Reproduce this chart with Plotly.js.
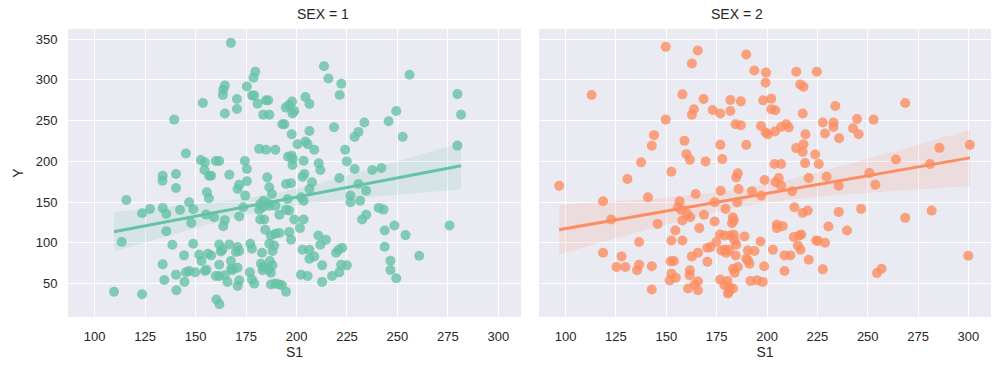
<!DOCTYPE html>
<html>
<head>
<meta charset="utf-8">
<script src="https://cdn.plot.ly/plotly-3.0.1.min.js"></script>
<style>html,body{margin:0;padding:0;background:#fff;}#chart{width:1000px;height:375px;}</style>
</head>
<body>
<div id="chart"></div>
<script>
// SEX = 1 : S1 values and Y values
const s1_sex1 = [
167.5,179.6,178.7,164.5,163.7,163.5,175.4,178,179,170.5,184.9,186,180.7,153.6,170.5,164.5,183.5,186.5,194.7,196.3,197.8,198,198.9,193,194,197.6,139.4,145.2,181.5,184.9,189.5,195.8,197.6,198,152.6,154.6,160,161.7,174.4,175.4,154.4,133.7,140.3,156.7,157.7,166.7,185.5,
133.6,140.3,155.6,156.6,115.7,123.5,127.4,133.7,135.5,142.3,146.8,148.9,147.9,155.2,159.2,135.5,113.4,109.6,123.5,140.5,134.5,133.7,138.5,144.3,140.3,144.5,145.2,146.8,149.8,148.8,151.8,152.9,156.2,157.7,154.6,155.4,160.3,161.8,161.7,163.3,162.5,166.7,161.7,160,161.7,164.5,165.8,164.5,163.7,167.5,167.6,168.3,170.8,171.6,170,170.8,171.6,170.8,171.6,170.8,171.6,174.6,175.4,173.6,177.1,177.9,176.9,177.9,179.1,182.9,182.4,183.5,183.2,182,184,181.5,183.2,182,183.7,185.7,186.5,184.5,186.5,187.8,186.5,189,188.1,186.8,188.1,186.2,187.3,187.3,189.5,191.1,192.8,194.8,187.3,189.5,191.5,191.5,194.8,196.4,189.5,194.8,197.3,195.6,196.4,197.3,198.9,
203,203.9,207.7,206.4,221.2,230.7,234.5,226.7,226.7,231.5,202.2,203.5,203.5,201.7,210.8,214.6,211.8,203,206.4,206.4,208.8,212.7,202.2,205.5,212.7,217.6,221.2,222.1,224.9,219.6,220.9,222.6,232.5,234.5,240.7,243.1,243.7,248.5,254,243.7,260.8,246.5,246.5,249.4,275.8,
213.6,215.8,222.2,221.4,256,204.4,206.4,279.7,281.5,279.7,249.4,245.6,233.6,230.7,228.8,252.6,218.6,206.4,204.4,205.5,200.5,208.8,224.1,198.1,203.5,211,211.8,224.9,228.8,237.5,242
];
const y_sex1 = [
345.5,310,302.7,293,288,281.4,292,281,281,276.5,275,275,270.9,271.6,264.3,258.7,257.4,257.4,266,269.2,273.4,258.7,262,245.6,245.6,233.4,251.3,209.8,215.4,214.2,214.2,205.6,206.8,195.6,201.6,198.8,200.4,200.4,200.4,190.6,189.4,182.4,184.5,182.4,182.4,183.6,180.4,
176.3,167.4,162.1,154.8,152.7,136.4,141.7,142.9,135.6,140.5,149.9,141.3,124.5,134.7,131.5,114.4,101,39.9,36.9,41.8,54.5,73.6,97.7,84.6,61,52.1,63.8,65.5,63.8,98.9,85.8,77.7,86.7,84.6,65.5,67.1,30.4,24.7,98,91.6,89.5,98,73.2,59.4,59.4,60.1,52.1,127.9,120.5,77.7,68.3,66.3,94.9,90,88.8,69.6,54,47.2,132.3,166.2,171.4,158,175.6,143.8,98.9,92.8,63.8,54.9,50,87.9,74.5,70.4,66.3,128.6,128.6,140.5,143.8,147.8,151.8,148.7,145.7,116,168.2,160,98.9,96.8,90,77.7,72.4,67.1,63.4,48.8,50,49.1,47.9,39.9,109,111.1,112,134.4,140.5,139.6,145.7,172.2,173.1,153.9,113.2,103.8,128.6,
181.2,184.5,174.3,166.2,179.6,172.2,164.1,158,149.9,151.8,156,151.8,128.6,118.1,109,103.8,97.7,91.6,91.6,80.6,83.4,72.4,61,59.4,52.1,59.4,63.8,73.2,72.4,87.9,91.6,94,128.6,134.4,142.9,140.8,115.2,121.3,109.5,95.2,84.2,78.1,66.7,56.5,121.3,
316.9,301.8,295.4,281.4,306.3,279,270.4,282.6,257.4,219.4,261.9,249.3,247.7,236.2,230.1,230.1,242,237.4,224.4,221.1,221.1,214.2,214.2,202.8,200.7,197.6,189.4,200,190.6,189.4,191.8
];
// SEX = 2 : S1 values and Y values
const s1_sex2 = [
149.7,165.6,162.7,189.7,193.7,199.5,199.3,112.9,158,168.5,163.7,162.7,173,176.8,181.8,187,181.8,198.1,149.7,184.4,187,197,199.3,200.4,143.9,142.8,159,176.8,189.7,160,161.7,169.5,177.8,137.5,152.5,130.7,185.5,184.7,
214.5,224.7,216.5,218.1,202.1,202.1,204.1,217.7,233.9,203.9,207,209.5,210.8,219.1,227.7,228.8,233,233,235.8,242.7,245.5,244.7,252.9,268.6,214.5,218.1,217.7,223.9,203.7,207,218.9,225.7,264,280.9,285.6,300.7,250.8,
96.8,118.6,140.9,122.6,145.7,118.6,127.8,125.3,129.7,136.5,136.5,135.5,142.8,142.8,156.6,155.8,157.5,164.6,158,161.9,160.3,168.7,174,177,174,166.4,154.5,152.5,158,179.4,183,182.6,183.5,185.2,185.9,192.5,197.1,188.8,176.6,178.9,181.8,183.5,183.9,184.7,174.8,172,170.4,165.7,162.7,170.4,177.3,179.8,181.1,179,184.4,152.2,153.8,152.5,154.7,151.7,161.7,161.6,165.7,164.1,160.8,165.7,176.8,180.3,178.9,181.4,183.1,181.1,180.6,183.2,183.9,185.5,190.5,190.5,191.3,189.7,193.8,196.8,191.8,195.1,197.9,
198.8,204.2,205.8,207,212.5,220.7,229.6,235.6,253.8,213.6,217.7,220.2,235.6,246.7,268.6,281.7,204.9,204.9,207.8,230.5,239.7,213.3,216.1,217,215.3,216.6,202.9,208.7,211.6,224.4,225.4,228.8,220.7,198.6,208.7,227.7,254.6,256.9,299.9
];
const y_sex2 = [
340.6,336.1,320.2,331.2,311.6,309,296.6,281.4,282.3,276.5,263.9,257.4,263.1,258.7,275.3,273.7,261.9,274.9,251.3,245.6,244.4,243.5,235.4,233.4,232.2,219.1,225.2,220.3,220.3,208.9,202,200,202.8,198.8,187.3,178.4,185.3,180.4,
310,310,294.5,291.7,277,263.9,262.7,258.7,268,236.7,242.3,245.6,241.6,233.4,247.7,234.2,247.7,242.3,228.5,240.7,233.4,252.1,251.3,271.6,216.3,221.1,211.7,208.5,196.7,196.7,197.9,196.7,202.4,196.7,216.6,220.3,185.7,
170.2,151.1,156,128.6,123.3,87.9,83.4,70.4,70.4,101,73.2,66.3,71.2,42.7,151.1,143.8,140.5,160,127.4,131.5,135.6,134.4,149.9,164.1,126.2,118.1,115.2,102.9,102.9,141.7,131.5,124.2,127.4,149.9,166.2,163.3,158,107.8,110.3,109,109,109.9,102.9,97.7,101,94.9,94,87.9,83.4,76.9,90.7,87.9,91.6,91.6,84.6,77.3,77.7,62.2,57.3,54,66.3,60.1,52.8,48.8,43.9,41.8,54.9,53.3,47.9,45.1,43.9,39.9,37.8,68.3,63.4,70.4,90.7,78.5,74.5,80.6,90,101.7,53.3,54,52.1,
177.1,174.3,179.6,170.2,163.3,179.6,181.2,170.2,171.4,143.8,136.8,139.6,138,141.7,130.7,139.6,122.1,118.1,120.5,120,115.2,107.1,109,110.3,96.8,91.6,91.6,84.6,84.6,102.9,102.2,100.1,79.3,71.2,65.5,67.5,63.1,68.3,84.2
];
const panelTitles = ["SEX = 1", "SEX = 2"];
const xTicks = [100, 125, 150, 175, 200, 225, 250, 275, 300];
const yTicks = [50, 100, 150, 200, 250, 300, 350];
const colors = ["#66c2a5", "#fc8d62"];

function fit(xs, ys) {
  const n = xs.length;
  const mx = xs.reduce((a,b)=>a+b,0)/n, my = ys.reduce((a,b)=>a+b,0)/n;
  let sxx=0, sxy=0;
  for (let i=0;i<n;i++){ sxx+=(xs[i]-mx)**2; sxy+=(xs[i]-mx)*(ys[i]-my); }
  const b = sxy/sxx, a = my-b*mx;
  let sse=0; for (let i=0;i<n;i++){ sse+=(ys[i]-a-b*xs[i])**2; }
  const s = Math.sqrt(sse/(n-2));
  const lo = Math.min(...xs), hi = Math.max(...xs);
  const gx=[], gy=[], up=[], dn=[];
  for (let k=0;k<=100;k++){
    const x = lo+(hi-lo)*k/100;
    const yh = a+b*x;
    const se = s*Math.sqrt(1/n+(x-mx)**2/sxx);
    gx.push(x); gy.push(yh); up.push(yh+1.97*se); dn.push(yh-1.97*se);
  }
  return {gx, gy, up, dn};
}

const sets = [[s1_sex1, y_sex1], [s1_sex2, y_sex2]];
const traces = [];
sets.forEach((d, i) => {
  const xa = i===0 ? 'x' : 'x2', ya = i===0 ? 'y' : 'y2';
  const f = fit(d[0], d[1]);
  traces.push({x: d[0], y: d[1], type:'scatter', mode:'markers', xaxis:xa, yaxis:ya,
    marker:{color:colors[i], size:10, opacity:0.8, line:{width:0}}, hoverinfo:'skip', showlegend:false});
  traces.push({x: f.gx.concat(f.gx.slice().reverse()), y: f.up.concat(f.dn.slice().reverse()),
    type:'scatter', mode:'lines', fill:'toself', fillcolor: i===0 ? 'rgba(102,194,165,0.15)' : 'rgba(252,141,98,0.15)',
    line:{width:0}, xaxis:xa, yaxis:ya, hoverinfo:'skip', showlegend:false});
  traces.push({x: f.gx, y: f.gy, type:'scatter', mode:'lines', xaxis:xa, yaxis:ya,
    line:{color:colors[i], width:3}, hoverinfo:'skip', showlegend:false});
});

const fontFam = '"Liberation Sans", Arial, sans-serif';
const axBase = {
  showgrid:true, gridcolor:'#ffffff', gridwidth:1, zeroline:false, showline:false,
  ticks:'outside', ticklen:7, tickcolor:'rgba(0,0,0,0)',
  tickfont:{family:fontFam, size:13, color:'#262626'}
};
const xr = [86.8, 311.2], yr = [9, 362.5];
const layout = {
  width:1000, height:375,
  margin:{l:68, r:9, t:29, b:58},
  paper_bgcolor:'#ffffff', plot_bgcolor:'#eaeaf2',
  font:{family:fontFam, color:'#262626'},
  xaxis: Object.assign({}, axBase, {domain:[0,0.4908], range:xr, tickvals:xTicks,
    title:{text:'S1', font:{family:fontFam, size:14, color:'#262626'}, standoff:4}}),
  xaxis2: Object.assign({}, axBase, {domain:[0.5103,1], range:xr, tickvals:xTicks, anchor:'y2',
    title:{text:'S1', font:{family:fontFam, size:14, color:'#262626'}, standoff:4}}),
  yaxis: Object.assign({}, axBase, {domain:[0,1], range:yr, tickvals:yTicks,
    title:{text:'Y', font:{family:fontFam, size:14, color:'#262626'}, standoff:8}}),
  yaxis2: Object.assign({}, axBase, {domain:[0,1], range:yr, tickvals:yTicks, anchor:'x2', showticklabels:false}),
  annotations: panelTitles.map((t, i) => ({
    text:t, xref:'paper', yref:'paper', x: i===0 ? 0.2454 : 0.7551, y:1, yanchor:'bottom', yshift:5,
    showarrow:false, font:{family:fontFam, size:14, color:'#262626'}
  }))
};
Plotly.newPlot('chart', traces, layout, {staticPlot:true, displayModeBar:false});
</script>
</body>
</html>
